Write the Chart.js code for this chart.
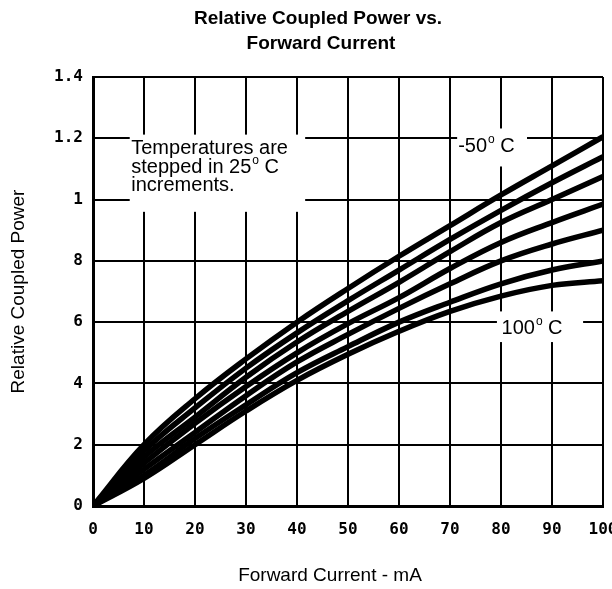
<!DOCTYPE html>
<html>
<head>
<meta charset="utf-8">
<script src="https://cdn.jsdelivr.net/npm/chart.js@4.4.1/dist/chart.umd.min.js"></script>
<style>
html, body { margin: 0; padding: 0; background: #fff; }
</style>
</head>
<body>
<canvas id="chart" width="612" height="589"></canvas>
<script>
// forward current (mA)
const currents = [0, 10, 20, 30, 40, 50, 60, 70, 80, 90, 100];

// relative coupled power per temperature
const powerM50 = [0, 0.20, 0.35, 0.48, 0.60, 0.71, 0.815, 0.915, 1.015, 1.11, 1.205];
const powerM25 = [0, 0.18, 0.32, 0.45, 0.565, 0.67, 0.77, 0.87, 0.965, 1.055, 1.14];
const power0 = [0, 0.16, 0.29, 0.42, 0.535, 0.635, 0.73, 0.83, 0.925, 1.0, 1.075];
const power25 = [0, 0.14, 0.27, 0.39, 0.50, 0.595, 0.68, 0.775, 0.86, 0.925, 0.985];
const power50 = [0, 0.12, 0.24, 0.36, 0.47, 0.56, 0.645, 0.725, 0.80, 0.855, 0.90];
const power75 = [0, 0.10, 0.22, 0.33, 0.435, 0.52, 0.60, 0.665, 0.725, 0.77, 0.80];
const power100 = [0, 0.09, 0.20, 0.31, 0.41, 0.495, 0.57, 0.635, 0.685, 0.72, 0.735];

const temps = ["-50", "-25", "0", "25", "50", "75", "100"];
const series = [powerM50, powerM25, power0, power25, power50, power75, power100];

// y tick labels as printed on the original (decimals dropped below 1)
const yTickLabels = ["0", "2", "4", "6", "8", "1", "1.2", "1.4"];

const tickFont = { family: "DejaVu Sans Mono", size: 16, weight: "bold" };
const textFont = "Liberation Sans, Arial, sans-serif";

// draws "-50° C" style text with a raised small o
function degText(ctx, x, y, num, size) {
  ctx.font = size + "px " + textFont;
  ctx.fillText(num, x, y);
  let w = ctx.measureText(num).width;
  ctx.font = Math.round(size * 0.6) + "px " + textFont;
  ctx.fillText("o", x + w + 1, y - size * 0.45);
  let w2 = ctx.measureText("o").width;
  ctx.font = size + "px " + textFont;
  ctx.fillText(" C", x + w + w2 + 1, y);
}

// white boxes + notes (x,y in data units)
const notesPlugin = {
  id: "notes",
  beforeDatasetsDraw(chart) {
    const ctx = chart.ctx;
    const xs = chart.scales.x, ys = chart.scales.y;
    const px = v => xs.getPixelForValue(v);
    const py = v => ys.getPixelForValue(v);
    ctx.save();
    ctx.fillStyle = "#fff";
    // box behind "Temperatures are..."
    ctx.fillRect(px(7.2), py(1.212), px(41.6) - px(7.2), py(0.96) - py(1.212));
    // box behind -50
    ctx.fillRect(px(71.4), py(1.232), px(85.1) - px(71.4), py(1.108) - py(1.232));
    // box behind 100
    ctx.fillRect(px(79.2), py(0.635), px(96.1) - px(79.2), py(0.535) - py(0.635));

    ctx.fillStyle = "#000";
    ctx.textBaseline = "alphabetic";
    ctx.textAlign = "left";
    ctx.font = "20px " + textFont;
    ctx.fillText("Temperatures are", px(7.5), py(1.148));
    degText(ctx, px(7.5), py(1.088), "stepped in 25", 20);
    ctx.font = "20px " + textFont;
    ctx.fillText("increments.", px(7.5), py(1.028));

    degText(ctx, px(71.6), py(1.155), "-50", 20);
    degText(ctx, px(80.1), py(0.56), "100", 20);
    ctx.restore();
  },
  afterDraw(chart) {
    const ctx = chart.ctx;
    ctx.save();
    ctx.fillStyle = "#000";
    ctx.textAlign = "center";
    ctx.textBaseline = "middle";
    ctx.font = "bold 19px " + textFont;
    ctx.fillText("Relative Coupled Power vs.", 318, 19);
    ctx.fillText("Forward Current", 321, 44);
    // x axis title sits left of the plot centre in the original
    ctx.font = "19px " + textFont;
    ctx.fillText("Forward Current - mA", 330, 576);
    ctx.restore();
  }
};

new Chart(document.getElementById("chart"), {
  type: "line",
  data: {
    datasets: series.map((vals, i) => ({
      label: temps[i] + " C",
      data: vals.map((v, j) => ({ x: currents[j], y: v })),
      borderColor: "#000",
      borderWidth: 5.5,
      pointRadius: 0,
      fill: false,
      tension: 0.4
    }))
  },
  options: {
    responsive: false,
    animation: false,
    layout: { padding: { top: 77, right: 9, left: 0, bottom: 0 } },
    plugins: {
      legend: { display: false },
      tooltip: { enabled: false }
    },
    scales: {
      x: {
        type: "linear",
        min: 0,
        max: 100,
        afterFit(scale) {
          scale.height = 83;
          scale.paddingLeft = 0;
          scale.paddingRight = 0;
        },
        ticks: { stepSize: 10, color: "#000", font: tickFont, padding: 14, maxRotation: 0 },
        grid: { color: "#000", lineWidth: 2, drawTicks: false },
        border: { color: "#000", width: 3 },
        title: { display: false }
      },
      y: {
        min: 0,
        max: 1.4,
        afterFit(scale) {
          scale.width = 93;
          scale.paddingTop = 0;
          scale.paddingBottom = 0;
        },
        ticks: {
          stepSize: 0.2,
          color: "#000",
          font: tickFont,
          padding: 10,
          callback: (v, i) => yTickLabels[i]
        },
        grid: { color: "#000", lineWidth: 2, drawTicks: false },
        border: { color: "#000", width: 3 },
        title: {
          display: true,
          text: "Relative Coupled Power",
          color: "#000",
          font: { family: textFont, size: 19 },
          padding: { top: 7, bottom: 0 }
        }
      }
    }
  },
  plugins: [notesPlugin]
});
</script>
</body>
</html>
